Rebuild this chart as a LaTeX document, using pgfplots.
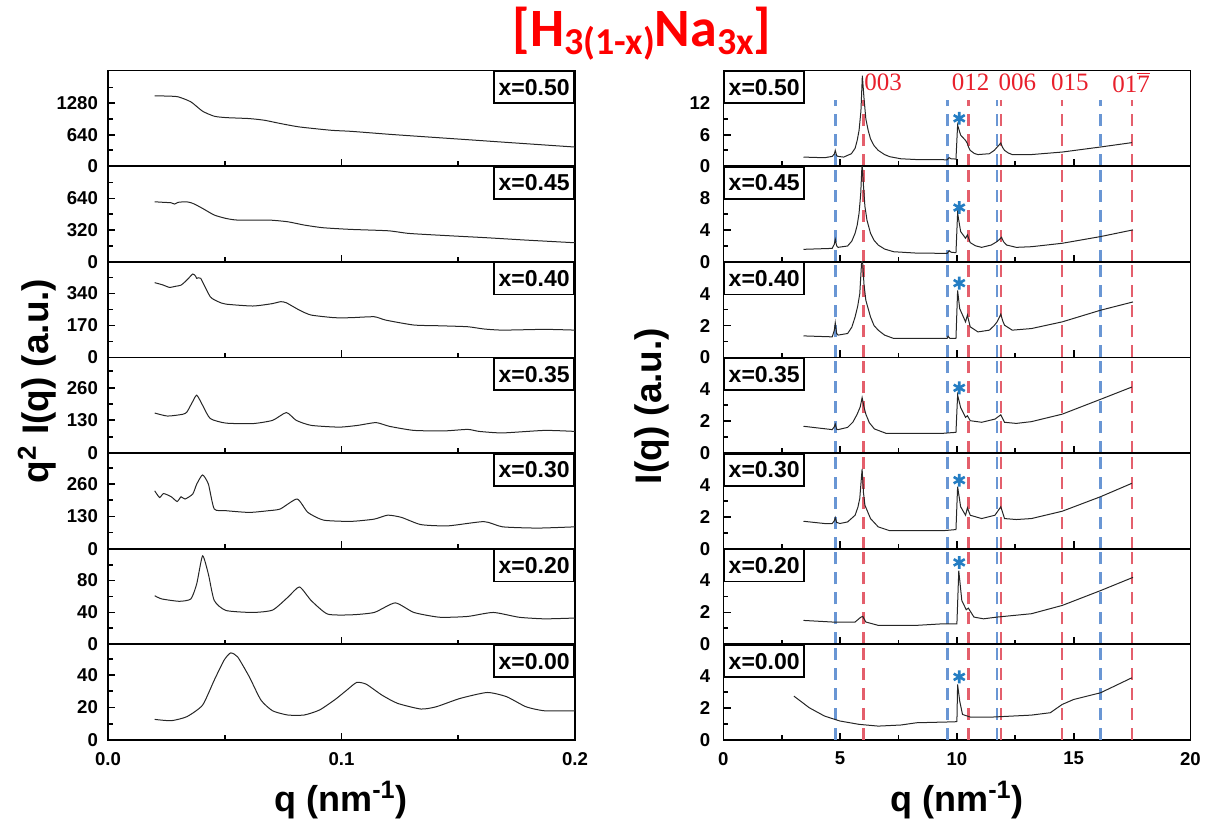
\documentclass[border=0pt]{standalone}
\usepackage{fontspec}
\setmainfont{Liberation Sans}
\newfontfamily\titlefont{Carlito}
\newfontfamily\annofont{Liberation Serif}
\usepackage{pgfplots}
\pgfplotsset{compat=1.18}
\definecolor{bdash}{RGB}{105,150,212}
\definecolor{rdash}{RGB}{228,95,108}
\definecolor{annored}{RGB}{232,32,44}
\definecolor{starblue}{RGB}{36,125,195}
\definecolor{titlered}{RGB}{255,0,0}
\pgfplotsset{
 panel/.style={scale only axis, width=233.5pt, height=47.82pt, anchor=north west,
   tick pos=left, tick align=inside, axis line style={line width=0.9pt},
   major tick length=3.6pt, minor tick length=2.4pt,
   every tick/.append style={line width=0.9pt, black},
   tick label style={font=\bfseries\fontsize{9.3}{10}\selectfont},
   /pgf/number format/assume math mode=true, /pgf/number format/1000 sep={},
   ymin=0, xticklabel={\phantom{0}}, xticklabel style={yshift=-2.5pt}},
 L/.style={panel, xmin=0, xmax=0.2, xtick={0,0.1,0.2}, minor xtick={0.05,0.15}, yticklabel style={xshift=-1.5pt}},
 R/.style={panel, xmin=0, xmax=20, xtick={0,5,10,15,20}, minor xtick={2.5,7.5,12.5,17.5}, yticklabel style={xshift=-3pt}},
 curve/.style={black!85, line width=0.5pt, mark=none},
 lcurve/.style={curve, smooth, tension=0.35},
 bl/.style={bdash, line width=1.1pt, dash pattern=on 6pt off 4pt, forget plot},
 rl/.style={rdash, line width=1.1pt, dash pattern=on 6pt off 4pt, forget plot},
 star/.style={only marks, mark=asterisk, mark size=3.2pt, starblue, line width=1.3pt},
}
\tikzset{xbox/.style={draw=black, line width=0.8pt, fill=white, minimum width=40pt, minimum height=16pt, inner sep=0.5pt, font=\bfseries\fontsize{11.5}{12}\selectfont},
 anno/.style={text=annored, font=\annofont\fontsize{12.5}{13}\selectfont}}
\newcommand{\refl}[1]{%
 \addplot[bl] coordinates {(4.8,0)(4.8,#1)};
 \addplot[bl] coordinates {(9.6,0)(9.6,#1)};
 \addplot[bl] coordinates {(11.7,0)(11.7,#1)};
 \addplot[bl] coordinates {(16.15,0)(16.15,#1)};
 \addplot[rl] coordinates {(6.0,0)(6.0,#1)};
 \addplot[rl] coordinates {(10.5,0)(10.5,#1)};
 \addplot[rl] coordinates {(11.9,0)(11.9,#1)};
 \addplot[rl] coordinates {(14.5,0)(14.5,#1)};
 \addplot[rl] coordinates {(17.5,0)(17.5,#1)};}
\begin{document}
\begin{tikzpicture}
\path[use as bounding box] (0,0) rectangle (605pt,412.5pt);
% ---------------- LEFT COLUMN ----------------
\begin{axis}[L, at={(54pt,377.25pt)}, ymax=1945, ytick={0,640,1280}, minor ytick={320,960,1600}]
\addplot[lcurve] coordinates {(0.020,1430)(0.025,1425)(0.030,1410)(0.0355,1307)(0.0405,1117)(0.0455,1015)(0.0505,987)(0.0605,967)(0.067,933)(0.074,865)(0.082,797)(0.0956,729)(0.104,708)(0.1206,647)(0.1373,592)(0.154,538)(0.1707,483)(0.1874,429)(0.2,388)};
\node[xbox, anchor=north east] at (rel axis cs:1,1) {x=0.50};
\end{axis}
\begin{axis}[L, at={(54pt,329.43pt)}, ymax=966, ytick={0,320,640}, minor ytick={160,480,800}]
\addplot[lcurve] coordinates {(0.020,606)(0.024,600)(0.027,596)(0.0285,583)(0.030,600)(0.033,606)(0.035,600)(0.037,583)(0.0405,539)(0.0455,472)(0.0505,438)(0.0555,421)(0.069,421)(0.077,404)(0.084,371)(0.092,344)(0.104,327)(0.12,313)(0.129,286)(0.146,263)(0.162,243)(0.179,219)(0.2,192)};
\node[xbox, anchor=north east] at (rel axis cs:1,1) {x=0.45};
\end{axis}
\begin{axis}[L, at={(54pt,281.61pt)}, ymax=508, ytick={0,170,340}, minor ytick={85,255,425}]
\addplot[lcurve] coordinates {(0.020,397)(0.0235,385)(0.0263,372)(0.0290,378)(0.0313,384)(0.0338,411)(0.0363,443)(0.0375,432)(0.038,420)(0.0397,420)(0.0438,322)(0.0472,296)(0.0505,283)(0.062,273)(0.070,285)(0.074,296)(0.0764,290)(0.082,251)(0.087,225)(0.097,211)(0.104,211)(0.114,216)(0.119,198)(0.131,172)(0.142,168)(0.154,163)(0.161,151)(0.169,145)(0.187,149)(0.2,145)};
\node[xbox, anchor=north east] at (rel axis cs:1,1) {x=0.40};
\end{axis}
\begin{axis}[L, at={(54pt,233.79pt)}, ymax=380, ytick={0,130,260}, minor ytick={65,195,325}]
\addplot[lcurve] coordinates {(0.020,159)(0.0255,147)(0.032,154)(0.0338,163)(0.036,200)(0.038,230)(0.0405,190)(0.0438,137)(0.0505,119)(0.062,117)(0.0705,130)(0.0764,161)(0.0806,130)(0.087,110)(0.099,103)(0.107,110)(0.1148,121)(0.1206,106)(0.131,90)(0.144,88)(0.154,94)(0.159,86)(0.169,80)(0.187,90)(0.2,86)};
\node[xbox, anchor=north east] at (rel axis cs:1,1) {x=0.35};
\end{axis}
\begin{axis}[L, at={(54pt,185.97pt)}, ymax=385, ytick={0,130,260}, minor ytick={65,195,325}]
\addplot[lcurve] coordinates {(0.020,233)(0.0221,206)(0.0238,222)(0.0271,209)(0.0296,190)(0.0313,209)(0.0330,200)(0.0363,220)(0.0380,260)(0.0405,297)(0.0430,260)(0.0455,160)(0.0505,153)(0.0605,146)(0.0688,153)(0.0738,160)(0.081,200)(0.0856,146)(0.0923,115)(0.104,110)(0.114,119)(0.1198,135)(0.1257,126)(0.134,97)(0.1457,92)(0.161,109)(0.169,88)(0.184,83)(0.2,88)};
\node[xbox, anchor=north east] at (rel axis cs:1,1) {x=0.30};
\end{axis}
\begin{axis}[L, at={(54pt,138.15pt)}, ymax=120, ytick={0,40,80}, minor ytick={20,60,100}]
\addplot[lcurve] coordinates {(0.020,61)(0.0230,57)(0.0305,54)(0.0355,57)(0.038,76)(0.0405,111)(0.043,88)(0.0455,55)(0.0505,42.5)(0.062,40)(0.0705,43)(0.077,59)(0.082,72)(0.087,55)(0.094,38)(0.104,37)(0.114,40)(0.123,52)(0.131,40)(0.142,34)(0.154,35)(0.165,40)(0.176,34)(0.187,32)(0.2,33)};
\node[xbox, anchor=north east] at (rel axis cs:1,1) {x=0.20};
\end{axis}
\begin{axis}[L, at={(54pt,90.33pt)}, ymax=59, ytick={0,20,40}, minor ytick={10,30,50}, xticklabels={0.0,0.1,0.2}]
\addplot[lcurve] coordinates {(0.020,12.7)(0.0271,11.9)(0.0338,14.4)(0.0405,21.5)(0.0455,36.9)(0.0497,49.2)(0.0525,53.7)(0.0555,51.3)(0.0605,39)(0.0655,24.6)(0.0705,18)(0.077,15.4)(0.084,15.4)(0.0906,18.5)(0.0973,25)(0.1023,30.8)(0.1065,35.5)(0.1106,34.4)(0.1173,27.7)(0.124,22.6)(0.134,19.1)(0.1406,20.5)(0.1507,25.6)(0.1624,29.3)(0.1707,26.7)(0.179,20.5)(0.187,18)(0.2,18)};
\node[xbox, anchor=north east] at (rel axis cs:1,1) {x=0.00};
\end{axis}
% ---------------- RIGHT COLUMN ----------------
\begin{axis}[R, at={(361.7pt,377.25pt)}, ymax=18.2, ytick={0,6,12}, minor ytick={3,9,15}]
\refl{12.5}
\addplot[curve] coordinates {(3.43,1.72)(4.33,1.6)(4.66,1.85)(4.75,2.3)(4.79,3.0)(4.85,2.0)(4.91,1.85)(5.15,1.72)(5.48,2.36)(5.64,3.4)(5.73,4.9)(5.81,6.8)(5.89,10.5)(5.95,17.2)(6.02,13)(6.10,9)(6.2,6.8)(6.3,5.2)(6.45,3.9)(6.63,3.0)(6.9,2.2)(7.12,1.8)(7.6,1.4)(8.27,1.25)(9.58,1.21)(9.67,1.6)(9.75,1.4)(9.96,1.34)(10.03,7.8)(10.16,5.9)(10.37,4.9)(10.45,4.3)(10.5,3.6)(10.57,3.0)(10.75,2.4)(10.90,2.2)(11.39,2.36)(11.6,3.0)(11.72,3.6)(11.88,4.4)(11.95,3.6)(12.04,3.0)(12.2,2.5)(12.37,2.2)(13.19,2.2)(14.51,2.68)(16.15,3.64)(17.49,4.47)};
\addplot[star] coordinates {(10.1,9.1)};
\node[anno] at (axis cs:6.84,15.9) {003};
\node[anno] at (axis cs:10.59,15.9) {012};
\node[anno] at (axis cs:12.59,15.9) {006};
\node[anno] at (axis cs:14.84,15.9) {015};
\node[anno] at (axis cs:17.46,15.9) {01$\overline{\mbox{7}}$};
\node[xbox, anchor=north west] at (rel axis cs:0,1) {x=0.50};
\end{axis}
\begin{axis}[R, at={(361.7pt,329.43pt)}, ymax=12, ytick={0,4,8}, minor ytick={2,6,10}]
\refl{12}
\addplot[curve] coordinates {(3.43,1.56)(4.66,1.68)(4.75,2.2)(4.79,2.82)(4.85,2.0)(4.91,1.81)(5.32,1.98)(5.5,2.6)(5.64,3.58)(5.73,4.6)(5.81,6.1)(5.88,8.5)(5.94,12.5)(6.0,9.5)(6.06,6.95)(6.15,5.2)(6.30,3.58)(6.45,2.7)(6.63,2.1)(6.9,1.6)(7.29,1.26)(8.2,1.1)(9.58,1.05)(9.67,1.39)(9.75,1.2)(9.96,1.14)(10.03,6.1)(10.16,3.79)(10.37,2.95)(10.45,3.37)(10.57,2.4)(10.8,2.0)(11.06,1.81)(11.47,2.1)(11.7,2.5)(11.80,2.74)(11.91,3.07)(12.0,2.5)(12.13,2.1)(12.54,1.81)(13.19,1.89)(14.51,2.32)(16.15,3.16)(17.54,4.0)};
\addplot[star] coordinates {(10.1,6.8)};
\node[xbox, anchor=north west] at (rel axis cs:0,1) {x=0.45};
\end{axis}
\begin{axis}[R, at={(361.7pt,281.61pt)}, ymax=6, ytick={0,2,4}, minor ytick={1,3,5}]
\refl{6}
\addplot[curve] coordinates {(3.43,1.35)(4.66,1.29)(4.75,1.7)(4.79,2.17)(4.85,1.5)(4.91,1.4)(5.32,1.5)(5.5,1.9)(5.64,2.54)(5.75,3.2)(5.84,4.0)(5.94,6.5)(6.02,4.6)(6.10,3.58)(6.30,2.54)(6.45,2.0)(6.63,1.71)(6.9,1.4)(7.29,1.19)(9.58,1.19)(9.62,1.33)(9.70,1.19)(9.96,1.19)(10.03,4.2)(10.12,3.06)(10.37,2.23)(10.45,2.65)(10.57,1.92)(10.90,1.6)(11.39,1.71)(11.6,2.0)(11.72,2.23)(11.88,2.71)(11.96,2.3)(12.04,2.02)(12.37,1.71)(13.19,1.81)(14.51,2.23)(16.15,2.96)(17.54,3.48)};
\addplot[star] coordinates {(10.1,4.66)};
\node[xbox, anchor=north west] at (rel axis cs:0,1) {x=0.40};
\end{axis}
\begin{axis}[R, at={(361.7pt,233.79pt)}, ymax=6, ytick={0,2,4}, minor ytick={1,3,5}]
\refl{6}
\addplot[curve] coordinates {(3.43,1.68)(4.66,1.47)(4.75,1.65)(4.79,1.82)(4.85,1.5)(4.91,1.47)(5.32,1.61)(5.55,1.95)(5.73,2.44)(5.86,2.9)(5.94,3.48)(6.02,2.9)(6.10,2.44)(6.25,1.9)(6.47,1.51)(6.96,1.24)(9.42,1.24)(9.96,1.3)(10.03,3.64)(10.16,2.86)(10.37,2.24)(10.45,2.34)(10.57,2.03)(11.06,1.93)(11.63,2.13)(11.88,2.4)(12.04,1.93)(12.54,1.86)(13.19,1.97)(14.51,2.44)(16.15,3.37)(17.49,4.14)};
\addplot[star] coordinates {(10.1,4.09)};
\node[xbox, anchor=north west] at (rel axis cs:0,1) {x=0.35};
\end{axis}
\begin{axis}[R, at={(361.7pt,185.97pt)}, ymax=6, ytick={0,2,4}, minor ytick={1,3,5}]
\refl{6}
\addplot[curve] coordinates {(3.43,1.72)(4.33,1.58)(4.66,1.58)(4.75,1.75)(4.79,1.95)(4.85,1.65)(4.99,1.58)(5.32,1.68)(5.64,2.1)(5.76,2.6)(5.84,3.15)(5.94,5.0)(6.0,3.5)(6.06,2.73)(6.30,1.89)(6.63,1.37)(7.12,1.13)(9.42,1.13)(9.96,1.2)(10.03,3.89)(10.16,2.63)(10.37,2.1)(10.45,2.56)(10.57,2.1)(11.06,1.89)(11.63,2.1)(11.88,2.63)(12.04,1.89)(12.54,1.83)(13.19,1.89)(14.51,2.35)(16.15,3.26)(17.49,4.1)};
\addplot[star] coordinates {(10.1,4.3)};
\node[xbox, anchor=north west] at (rel axis cs:0,1) {x=0.30};
\end{axis}
\begin{axis}[R, at={(361.7pt,138.15pt)}, ymax=6, ytick={0,2,4}, minor ytick={1,3,5}]
\refl{6}
\addplot[curve] coordinates {(3.43,1.5)(4.66,1.4)(5.64,1.4)(5.89,1.71)(5.97,1.75)(6.10,1.4)(6.63,1.19)(8.27,1.19)(9.42,1.29)(10.0,1.29)(10.08,4.62)(10.21,2.75)(10.40,2.17)(10.49,2.27)(10.73,1.71)(11.14,1.6)(11.72,1.71)(13.19,1.92)(14.51,2.44)(16.15,3.37)(17.54,4.2)};
\addplot[star] coordinates {(10.1,5.14)};
\node[xbox, anchor=north west] at (rel axis cs:0,1) {x=0.20};
\end{axis}
\begin{axis}[R, at={(361.7pt,90.33pt)}, ymax=6, ytick={0,2,4}, minor ytick={1,3,5}, xticklabels={0,5,10,15,20}]
\refl{6}
\addplot[curve] coordinates {(3.02,2.75)(3.68,2.02)(4.33,1.5)(4.99,1.19)(5.81,0.98)(6.63,0.87)(7.61,0.94)(8.27,1.08)(9.91,1.14)(10.0,1.16)(10.03,3.48)(10.12,2.44)(10.24,1.6)(10.57,1.44)(11.55,1.44)(13.19,1.56)(14.0,1.71)(14.51,2.23)(15.0,2.54)(16.15,2.96)(17.49,3.9)};
\addplot[star] coordinates {(10.1,3.96)};
\node[xbox, anchor=north west] at (rel axis cs:0,1) {x=0.00};
\end{axis}
% ---------------- LABELS ----------------
\node[font=\bfseries\fontsize{18}{20}\selectfont] at (170.5pt,12.5pt) {q (nm\textsuperscript{-1})};
\node[font=\bfseries\fontsize{18}{20}\selectfont] at (478.5pt,12.5pt) {q (nm\textsuperscript{-1})};
\node[font=\bfseries\fontsize{18.5}{20}\selectfont, rotate=90] at (18.5pt,222pt) {q\textsuperscript{2} I(q) (a.u.)};
\node[font=\bfseries\fontsize{18.5}{20}\selectfont, rotate=90] at (326pt,209.5pt) {I(q) (a.u.)};
\node[text=titlered, font=\titlefont\bfseries\fontsize{27}{30}\selectfont, anchor=base] at (321pt,389pt) {[H\raisebox{-4pt}{\fontsize{19}{19}\selectfont 3(1-x)}Na\raisebox{-4pt}{\fontsize{19}{19}\selectfont 3x}]};
\end{tikzpicture}
\end{document}
